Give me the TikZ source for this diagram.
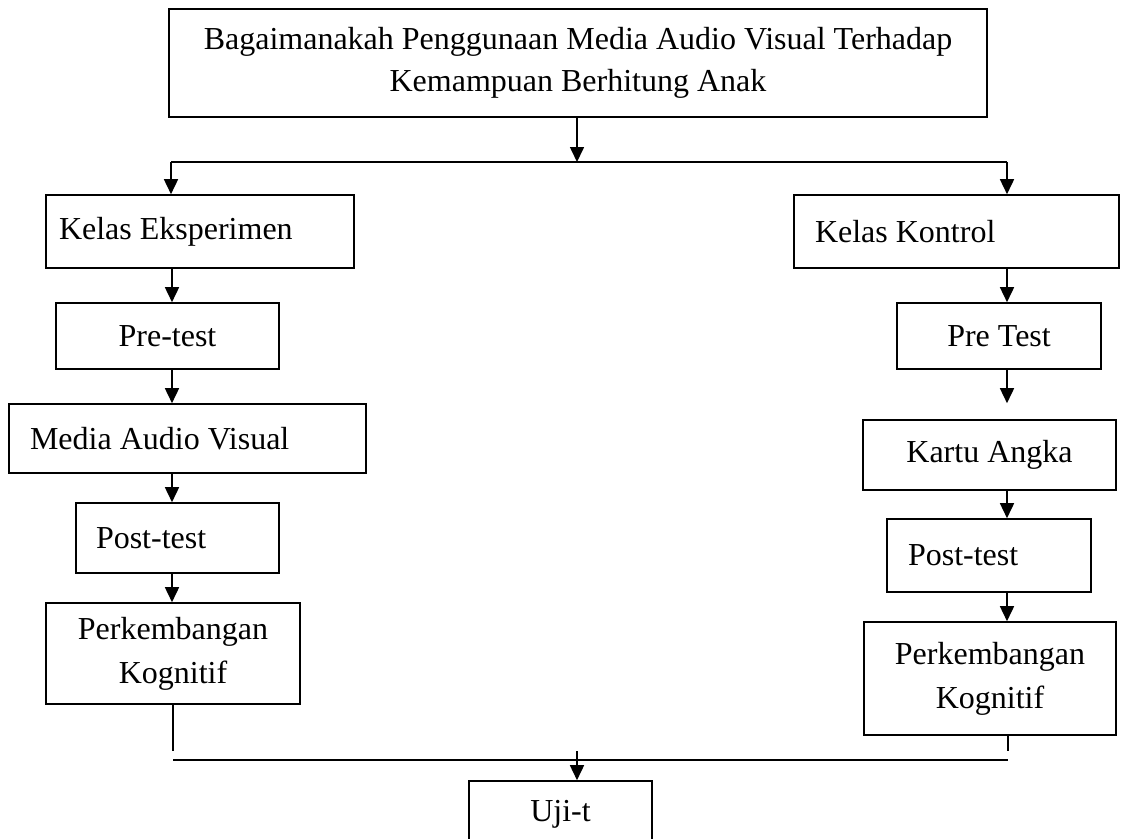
\documentclass[tikz,border=0pt]{standalone}
\usepackage{fontspec}
\setmainfont{Liberation Serif}
\usetikzlibrary{arrows.meta, calc}
\tikzset{
	box/.style={draw, line width=1.6pt, inner sep=0pt, font=\fontsize{32}{42}\selectfont},
	leftbox/.style={box, align=flush left, inner xsep=#1},
	flow/.style={-{Triangle[length=15pt, width=14pt]}, line width=1.6pt},
	link/.style={-, line width=1.6pt}
}
\newcommand{\leftcol}{172}
\newcommand{\rightcol}{1007}

\begin{document}
\begin{tikzpicture}[x=1pt, y=-1pt]
	\path[use as bounding box, clip] (0,0) rectangle (1121,838);
		% question at the top
		\node[box, align=center, minimum width=818pt, minimum height=108pt] (question) at (578,63) {Bagaimanakah Penggunaan Media Audio Visual Terhadap\\Kemampuan Berhitung Anak};
		% experiment class
		\node[leftbox=13pt, text width=282pt, minimum height=73pt] (kelasE) at (200,231.5) {Kelas Eksperimen};
		\node[box, minimum width=223pt, minimum height=66pt] (preE)  at (167.5,336) {Pre-test};
		\node[leftbox=21pt, text width=315pt, minimum height=69pt] (mediaE) at (187.5,438.5) {Media Audio Visual};
		\node[leftbox=20pt, text width=163pt, minimum height=70pt] (postE) at (177.5,538) {Post-test};
		\node[box, align=center, minimum width=254pt, minimum height=101pt, font=\fontsize{32}{44}\selectfont] (perkE) at (173,653.5) {Perkembangan\\Kognitif};
		% control class
		\node[leftbox=21pt, text width=283pt, minimum height=73pt] (kelasK) at (956.5,231.5) {Kelas Kontrol};
		\node[box, minimum width=204pt, minimum height=66pt] (preK)  at (999,336) {Pre Test};
		\node[box, minimum width=253pt, minimum height=70pt] (kartuK) at (989.5,455) {Kartu Angka};
		\node[leftbox=21pt, text width=162pt, minimum height=73pt] (postK) at (989,555.5) {Post-test};
		\node[box, align=center, minimum width=252pt, minimum height=113pt, font=\fontsize{32}{44}\selectfont] (perkK) at (990,678.5) {Perkembangan\\Kognitif};
		% t-test
		\node[box, minimum width=183pt, minimum height=67pt] (uji) at (560.5,814.5) {Uji-t};
		% split and join points
		\coordinate (splitL) at (171,162);
		\coordinate (splitR) at (\rightcol,162);
		\coordinate (colL) at (\leftcol,0);
		\coordinate (colR) at (\rightcol,0);
		\coordinate (endL) at (173,751);
		\coordinate (endR) at (1008,751);
		\coordinate (barL) at (173,760);
		\coordinate (barR) at (1008,760);
		\coordinate (barTop) at (577,751);
		% arrows
		\draw[flow] (question.south -| barTop) -- (splitL -| barTop);
		\draw[link] (splitL) -- (splitR);
		\draw[flow] (splitL) -- (kelasE.north -| splitL);
		\draw[flow] (splitR) -- (kelasK.north -| splitR);
		\draw[flow] (kelasE.south -| colL) -- (preE.north -| colL);
		\draw[flow] (preE.south -| colL) -- (mediaE.north -| colL);
		\draw[flow] (mediaE.south -| colL) -- (postE.north -| colL);
		\draw[flow] (postE.south -| colL) -- (perkE.north -| colL);
		\draw[flow] (kelasK.south -| colR) -- (preK.north -| colR);
		\draw[flow, shorten >=16pt] (preK.south -| colR) -- (kartuK.north -| colR);
		\draw[flow] (kartuK.south -| colR) -- (postK.north -| colR);
		\draw[flow] (postK.south -| colR) -- (perkK.north -| colR);
		% joining the two classes
		\draw[link] (perkE.south -| endL) -- (endL);
		\draw[link] (perkK.south -| endR) -- (endR);
		\draw[link] (barL) -- (barR);
		\draw[flow] (barTop) -- (uji.north -| barTop);
\end{tikzpicture}
\end{document}
